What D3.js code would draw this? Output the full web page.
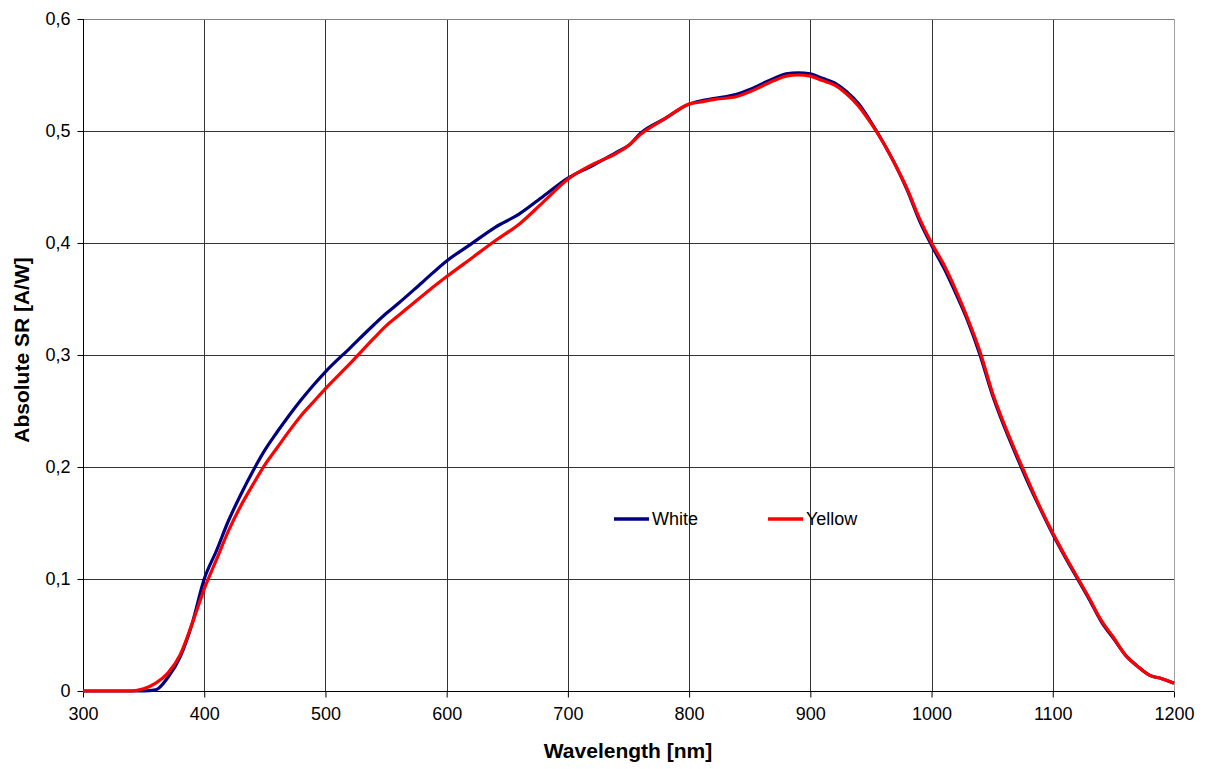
<!DOCTYPE html>
<html>
<head>
<meta charset="utf-8">
<script src="https://cdn.jsdelivr.net/npm/d3@7"></script>
<style>
  body { margin: 0; background: #fff; }
  text { font-family: "Liberation Sans", Arial, sans-serif; fill: #000; }
</style>
</head>
<body>
<div id="chart"></div>
<script>
var wavelength = [300, 320, 340, 350, 360, 370, 380, 390, 400, 410, 420, 430, 440, 450, 460, 470, 480, 490, 500,
  520, 540, 550, 560, 580, 600, 620, 640, 660, 680, 700, 720, 740, 750, 760, 780, 800, 810, 820, 840, 850,
  860, 870, 880, 890, 900, 910, 920, 930, 940, 950, 960, 970, 980, 990, 1000, 1010, 1020, 1030, 1040, 1050,
  1060, 1070, 1080, 1090, 1100, 1110, 1120, 1130, 1140, 1150, 1160, 1170, 1180, 1190, 1200];

var white = [0, 0, 0, 0, 0.001, 0.012, 0.03, 0.06, 0.1, 0.125, 0.152, 0.175, 0.196, 0.215, 0.231, 0.246, 0.26, 0.273, 0.285,
  0.306, 0.327, 0.337, 0.346, 0.365, 0.384, 0.399, 0.414, 0.426, 0.442, 0.458, 0.469, 0.481, 0.487, 0.498, 0.511, 0.524, 0.527, 0.529, 0.533, 0.537,
  0.542, 0.547, 0.551, 0.552, 0.551, 0.547, 0.543, 0.535, 0.524, 0.508, 0.49, 0.47, 0.447, 0.42, 0.398, 0.378, 0.355, 0.33, 0.3, 0.265,
  0.236, 0.21, 0.185, 0.162, 0.14, 0.12, 0.101, 0.082, 0.062, 0.047, 0.032, 0.022, 0.014, 0.011, 0.007];

var yellow = [0, 0, 0, 0.002, 0.007, 0.016, 0.032, 0.06, 0.091, 0.117, 0.143, 0.165, 0.184, 0.202, 0.217, 0.232, 0.246, 0.258, 0.27,
  0.292, 0.315, 0.326, 0.335, 0.353, 0.37, 0.386, 0.402, 0.417, 0.437, 0.457, 0.47, 0.48, 0.487, 0.497, 0.511, 0.524, 0.526, 0.528, 0.531, 0.535,
  0.54, 0.545, 0.549, 0.55, 0.549, 0.545, 0.541, 0.533, 0.522, 0.507, 0.49, 0.47, 0.448, 0.422, 0.4, 0.381, 0.358, 0.332, 0.303, 0.267,
  0.238, 0.212, 0.187, 0.163, 0.141, 0.121, 0.102, 0.083, 0.063, 0.048, 0.032, 0.022, 0.014, 0.011, 0.007];

var xTicks = [300, 400, 500, 600, 700, 800, 900, 1000, 1100, 1200];
var yTicks = [0, 0.1, 0.2, 0.3, 0.4, 0.5, 0.6];
var seriesNames = ["White", "Yellow"];
var seriesColors = ["#000080", "#ff0000"];

var width = 1206, height = 769;
var plotLeft = 83, plotRight = 1174, plotTop = 19, plotBottom = 691;

var svg = d3.select("#chart").append("svg")
  .attr("width", width)
  .attr("height", height);

var x = d3.scaleLinear().domain([300, 1200]).range([plotLeft, plotRight]);
var y = d3.scaleLinear().domain([0, 0.6]).range([plotBottom, plotTop]);

// grid
svg.append("g").selectAll("line")
  .data(xTicks.slice(1))
  .enter().append("line")
  .attr("x1", function(d) { return Math.round(x(d)) + 0.5; })
  .attr("x2", function(d) { return Math.round(x(d)) + 0.5; })
  .attr("y1", plotTop).attr("y2", plotBottom)
  .attr("stroke", function(d) { return d == 1200 ? "#a0a0a0" : "#333"; })
  .attr("stroke-width", 1);

svg.append("g").selectAll("line")
  .data(yTicks.slice(1))
  .enter().append("line")
  .attr("y1", function(d) { return Math.round(y(d)) + 0.5; })
  .attr("y2", function(d) { return Math.round(y(d)) + 0.5; })
  .attr("x1", plotLeft).attr("x2", plotRight)
  .attr("stroke", function(d) { return d == 0.6 ? "#808080" : "#333"; })
  .attr("stroke-width", 1);

// axes
var yAxis = d3.axisLeft(y).tickValues(yTicks).tickSize(6).tickPadding(7)
  .tickFormat(function(d) { return d == 0 ? "0" : d3.format(".1f")(d).replace(".", ","); });
var xAxis = d3.axisBottom(x).tickValues(xTicks).tickSize(6).tickPadding(10).tickFormat(d3.format("d"));

var gy = svg.append("g").attr("transform", "translate(" + (plotLeft + 0.5) + ",0)").call(yAxis);
var gx = svg.append("g").attr("transform", "translate(0," + (plotBottom + 0.5) + ")").call(xAxis);
[gx, gy].forEach(function(g) {
  g.select(".domain").attr("stroke", "#000");
  g.selectAll(".tick line").attr("stroke", "#000");
  g.selectAll(".tick text").style("font-size", "18px").style("font-family", "Liberation Sans, Arial, sans-serif");
});
gx.select(".domain").attr("d", "M" + plotLeft + ",0H" + plotRight);
gy.select(".domain").attr("d", "M0," + plotTop + "V" + plotBottom);

// titles
svg.append("text")
  .attr("x", 628)
  .attr("y", 758)
  .attr("text-anchor", "middle")
  .style("font-size", "21px").style("font-weight", "bold")
  .text("Wavelength [nm]");

svg.append("text")
  .attr("transform", "translate(29,350) rotate(-90)")
  .attr("text-anchor", "middle")
  .style("font-size", "21px").style("font-weight", "bold")
  .text("Absolute SR [A/W]");

// curves
var line = d3.line()
  .x(function(d) { return x(d[0]); })
  .y(function(d) { return y(d[1]); })
  .curve(d3.curveMonotoneX);

[white, yellow].forEach(function(vals, i) {
  svg.append("path")
    .datum(wavelength.map(function(w, j) { return [w, vals[j]]; }))
    .attr("d", line)
    .attr("fill", "none")
    .attr("stroke", seriesColors[i])
    .attr("stroke-width", 3.2)
    .attr("stroke-linejoin", "round");
});

// legend
var legend = svg.selectAll(".legend")
  .data(seriesNames)
  .enter().append("g")
  .attr("class", "legend")
  .attr("transform", function(d, i) { return "translate(" + (614 + i * 154) + ",519)"; });

legend.append("line")
  .attr("x1", 0).attr("x2", 35)
  .attr("stroke", function(d, i) { return seriesColors[i]; })
  .attr("stroke-width", 3.5);

legend.append("text")
  .attr("x", 38)
  .attr("dy", "0.35em")
  .style("font-size", "18px")
  .text(function(d) { return d; });
</script>
</body>
</html>
